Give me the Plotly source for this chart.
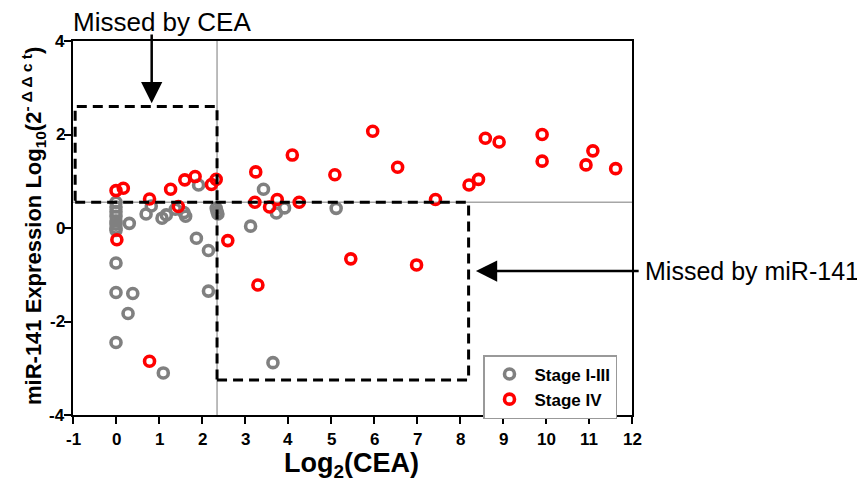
import plotly.graph_objects as go

# Stage I-III (gray)
stage13_x = [0, 0, 0, 0, 0, 0, 0, 0, 0, 0, 0,
             0.31, 0.39, 0.28, 0.70, 0.82, 1.07, 1.17, 1.10, 1.38, 1.58, 1.62,
             1.92, 1.87, 2.15, 2.15, 2.33, 2.35, 2.37, 3.13, 3.43, 3.73, 3.92,
             5.12, 3.65]
stage13_y = [0.55, 0.45, 0.35, 0.25, 0.15, 0.08, 0.0, -0.05, -0.75, -1.38, -2.45,
             0.10, -1.40, -1.83, 0.30, 0.47, 0.21, 0.28, -3.10, 0.40, 0.33, 0.25,
             0.92, -0.22, -0.48, -1.35, 0.42, 0.35, 0.30, 0.04, 0.83, 0.32, 0.43,
             0.42, -2.88]

# Stage IV (red)
stage4_x = [0.0, 0.17, 0.02, 0.78, 0.78, 1.27, 1.45, 1.60, 1.84, 2.22, 2.33,
            2.60, 3.25, 3.23, 3.30, 3.57, 3.75, 4.10, 4.26, 5.09, 5.46, 5.97,
            6.55, 6.99, 7.43, 8.21, 8.43, 8.59, 8.91, 9.91, 9.91, 10.93, 11.09,
            11.62]
stage4_y = [0.80, 0.85, -0.25, 0.62, -2.85, 0.83, 0.46, 1.03, 1.10, 0.93, 1.04,
            -0.27, 1.20, 0.55, -1.22, 0.45, 0.61, 1.56, 0.55, 1.14, -0.66, 2.07,
            1.30, -0.79, 0.61, 0.92, 1.04, 1.92, 1.84, 2.00, 1.43, 1.35, 1.65,
            1.27]

x_ticks = list(range(-1, 13))
x_tick_labels = ["-1", "0", "1", "2", "3", "4", "5", "6", "7", "8", "9", "10", "11", "12"]
y_ticks = [-4, -2, 0, 2, 4]
y_tick_labels = ["-4", "-2", "0", "2", "4"]

cea_cut = 2.35
mir_cut = 0.55

FONT = "Arial, Liberation Sans, sans-serif"

# the page adds an 8px body margin; figure is sized to fill the remaining window
W, H = 857, 480
PL, PR, PT, PB = 65, 624, 33, 407   # plot area in figure pixels
pw, ph = PR - PL, PB - PT

def px(xpix):
    return (xpix - 8 - PL) / pw

def py(ypix):
    return (PB - (ypix - 8)) / ph

fig = go.Figure()
fig.add_trace(go.Scatter(
    x=stage13_x, y=stage13_y, mode="markers", name="Stage I-III",
    marker=dict(symbol="circle-open", size=10, color="#808080",
                line=dict(width=3.6, color="#808080"))))
fig.add_trace(go.Scatter(
    x=stage4_x, y=stage4_y, mode="markers", name="Stage IV",
    marker=dict(symbol="circle-open", size=10, color="#ff0000",
                line=dict(width=3.6, color="#ff0000"))))

shapes = [
    dict(type="line", xref="x", yref="y", x0=-1, x1=12, y0=mir_cut, y1=mir_cut,
         line=dict(color="#a6a6a6", width=1.5), layer="below"),
    dict(type="line", xref="x", yref="y", x0=cea_cut, x1=cea_cut, y0=-4, y1=4,
         line=dict(color="#a6a6a6", width=1.5), layer="below"),
    dict(type="rect", xref="x", yref="y", x0=-0.95, x1=cea_cut, y0=mir_cut, y1=2.6,
         line=dict(color="black", width=3, dash="10px,6px"), layer="above"),
    dict(type="rect", xref="x", yref="y", x0=cea_cut, x1=8.2, y0=-3.25, y1=mir_cut,
         line=dict(color="black", width=3, dash="10px,6px"), layer="above"),
]

annotations = [
    dict(xref="x", yref="y", axref="x", ayref="y", x=0.83, y=2.67, ax=0.83, ay=4.17,
         text="", showarrow=True, arrowhead=2, arrowsize=1.7, arrowwidth=2.5,
         arrowcolor="black"),
    dict(xref="x", yref="y", axref="x", ayref="y", x=8.37, y=-0.92, ax=12.19, ay=-0.92,
         text="", showarrow=True, arrowhead=2, arrowsize=1.7, arrowwidth=2.5,
         arrowcolor="black"),
    dict(xref="paper", yref="paper", x=px(162), y=py(22), text="Missed by CEA",
         showarrow=False, font=dict(family=FONT, size=26, color="black"),
         xanchor="center", yanchor="middle", borderpad=0),
    dict(xref="paper", yref="y", x=px(643), y=-0.92, text="Missed by miR-141",
         showarrow=False, font=dict(family=FONT, size=25, color="black"),
         xanchor="left", yanchor="middle"),
    dict(xref="paper", yref="paper", x=px(351), y=py(465),
         text="<b>Log<sub>2</sub>(CEA)</b>", showarrow=False,
         font=dict(family=FONT, size=27, color="black"),
         xanchor="center", yanchor="middle", borderpad=0),
    dict(xref="paper", yref="paper", x=px(33), y=py(226),
         text="<b>miR-141 Expression Log<sub>10</sub>(2<sup>- \u0394 \u0394 c t</sup>)</b>",
         showarrow=False, textangle=-90,
         font=dict(family=FONT, size=22, color="black"),
         xanchor="center", yanchor="middle"),
]

# tick labels as bold text placed through the axes
for t, lab in zip(x_ticks, x_tick_labels):
    annotations.append(dict(xref="x", yref="paper", x=t, y=py(439), text="<b>%s</b>" % lab,
                            showarrow=False, xanchor="center", yanchor="middle",
                            borderpad=0,
                            font=dict(family=FONT, size=17, color="black", weight="bold")))
for t, lab in zip(y_ticks, y_tick_labels):
    annotations.append(dict(xref="paper", yref="y", x=px(66), y=t, text="<b>%s</b>" % lab,
                            showarrow=False, xanchor="right", yanchor="middle",
                            borderpad=0,
                            font=dict(family=FONT, size=17, color="black", weight="bold")))

fig.update_layout(
    width=W, height=H,
    margin=dict(l=PL, r=W - PR, t=PT, b=H - PB),
    paper_bgcolor="white", plot_bgcolor="white",
    font=dict(family=FONT, color="black"),
    shapes=shapes, annotations=annotations,
    showlegend=True,
    legend=dict(x=px(483), y=py(355), xanchor="left", yanchor="top",
                bgcolor="white", bordercolor="#999999", borderwidth=1.5,
                font=dict(family=FONT, size=17, color="black", weight="bold"),
                itemwidth=40, tracegroupgap=0),
    xaxis=dict(range=[-1, 12], tickvals=x_ticks, showticklabels=False,
               showgrid=False, zeroline=False, showline=True, linecolor="black",
               linewidth=2, mirror=True, ticks="outside", ticklen=7, tickwidth=2,
               tickcolor="black"),
    yaxis=dict(range=[-4, 4], tickvals=y_ticks, showticklabels=False,
               showgrid=False, zeroline=False, showline=True, linecolor="black",
               linewidth=2, mirror=True, ticks="outside", ticklen=7, tickwidth=2,
               tickcolor="black"),
)

fig.write_html("out.html")
